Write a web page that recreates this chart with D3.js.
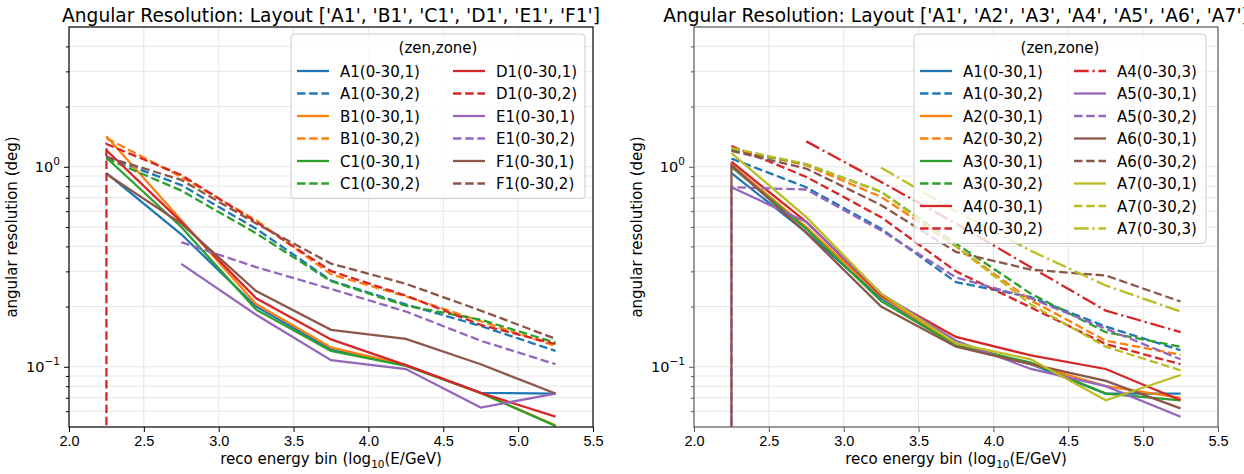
<!DOCTYPE html>
<html>
<head>
<meta charset="utf-8">
<script src="https://cdn.jsdelivr.net/npm/d3@7"></script>
<style>
  body { margin: 0; background: #fff; }
  svg { display: block; font-family: "DejaVu Sans", sans-serif; }
</style>
</head>
<body>
<svg id="chart" width="1244" height="474"></svg>
<script>
// energy bin centres (log10 E/GeV)
const xBins = [2.25, 2.75, 3.25, 3.75, 4.25, 4.75, 5.25];
const xTicks = [2.0, 2.5, 3.0, 3.5, 4.0, 4.5, 5.0, 5.5];
const yMajorTicks = [0.1, 1];
const yMinorTicks = [0.06, 0.07, 0.08, 0.09, 0.2, 0.3, 0.4, 0.5, 0.6, 0.7, 0.8, 0.9, 2, 3, 4];

// left panel
const leftTitle = "Angular Resolution: Layout ['A1', 'B1', 'C1', 'D1', 'E1', 'F1']";
const leftStations = ["A1", "B1", "C1", "D1", "E1", "F1"];
const leftLabels = [
  "A1(0-30,1)", "A1(0-30,2)", "B1(0-30,1)", "B1(0-30,2)", "C1(0-30,1)", "C1(0-30,2)",
  "D1(0-30,1)", "D1(0-30,2)", "E1(0-30,1)", "E1(0-30,2)", "F1(0-30,1)", "F1(0-30,2)"
];
const leftValues = [
  [0.93, 0.46, 0.200, 0.122, 0.102, 0.074, 0.0735],
  [1.12, 0.81, 0.49, 0.270, 0.205, 0.160, 0.120],
  [1.42, 0.54, 0.206, 0.125, 0.102, 0.074, 0.051],
  [1.39, 0.89, 0.54, 0.290, 0.225, 0.169, 0.127],
  [1.11, 0.50, 0.193, 0.120, 0.101, 0.074, 0.0506],
  [1.10, 0.76, 0.465, 0.268, 0.202, 0.172, 0.132],
  [1.21, 0.53, 0.220, 0.137, 0.102, 0.074, 0.0563],
  [1.30, 0.91, 0.53, 0.301, 0.227, 0.162, 0.130],
  [null, 0.327, 0.182, 0.108, 0.0975, 0.0625, 0.0735],
  [null, 0.42, 0.315, 0.245, 0.189, 0.135, 0.103],
  [0.92, 0.52, 0.239, 0.153, 0.138, 0.103, 0.0735],
  [1.12, 0.86, 0.52, 0.328, 0.260, 0.191, 0.138]
];
const leftZeroStart = ["D1(0-30,2)"];

// right panel
const rightTitle = "Angular Resolution: Layout ['A1', 'A2', 'A3', 'A4', 'A5', 'A6', 'A7']";
const rightStations = ["A1", "A2", "A3", "A4", "A5", "A6", "A7"];
const rightLabels = [
  "A1(0-30,1)", "A1(0-30,2)", "A2(0-30,1)", "A2(0-30,2)", "A3(0-30,1)", "A3(0-30,2)",
  "A4(0-30,1)", "A4(0-30,2)", "A4(0-30,3)", "A5(0-30,1)", "A5(0-30,2)", "A6(0-30,1)",
  "A6(0-30,2)", "A7(0-30,1)", "A7(0-30,2)", "A7(0-30,3)"
];
const rightValues = [
  [0.93, 0.47, 0.220, 0.130, 0.103, 0.0735, 0.0735],
  [1.10, 0.79, 0.49, 0.265, 0.223, 0.159, 0.121],
  [1.02, 0.50, 0.225, 0.130, 0.103, 0.080, 0.070],
  [1.22, 1.02, 0.707, 0.400, 0.215, 0.135, 0.115],
  [1.00, 0.49, 0.213, 0.128, 0.105, 0.0735, 0.068],
  [1.22, 1.03, 0.75, 0.413, 0.232, 0.149, 0.126],
  [1.06, 0.53, 0.228, 0.141, 0.114, 0.0975, 0.068],
  [1.27, 0.89, 0.56, 0.300, 0.198, 0.130, 0.103],
  [null, 1.34, 0.84, 0.52, 0.315, 0.191, 0.149],
  [0.79, 0.53, 0.232, 0.135, 0.0975, 0.080, 0.0563],
  [0.79, 0.77, 0.48, 0.280, 0.220, 0.155, 0.109],
  [1.02, 0.467, 0.200, 0.126, 0.103, 0.085, 0.062],
  [1.20, 0.98, 0.643, 0.375, 0.306, 0.286, 0.212],
  [1.17, 0.56, 0.232, 0.131, 0.109, 0.068, 0.091],
  [1.24, 1.03, 0.75, 0.400, 0.205, 0.126, 0.096],
  [null, null, 0.99, 0.60, 0.38, 0.255, 0.189]
];
const rightZeroStart = ["A5(0-30,2)", "A6(0-30,1)"];

const palette = ["#1f77b4", "#ff7f0e", "#2ca02c", "#d62728", "#9467bd", "#8c564b", "#bcbd22"];
const dashes = { "1": null, "2": "8.5,3.7", "3": "14.7,3.7,2.3,3.7" };

const svg = d3.select("#chart");
const W = 524, H = 400;

function drawPanel(cfg) {
  const g = svg.append("g").attr("transform", `translate(${cfg.left},27)`);
  const x = d3.scaleLinear().domain([2.0, 5.5]).range([0, W]);
  const y = d3.scaleLog().domain([0.05, 5]).range([H, 0]);

  // grid
  g.append("g").selectAll("line").data(xTicks.slice(1, -1)).join("line")
    .attr("x1", d => x(d)).attr("x2", d => x(d)).attr("y1", 0).attr("y2", H)
    .attr("stroke", "#e6e6e6").attr("stroke-width", 1);
  g.append("g").selectAll("line").data(yMinorTicks.concat(yMajorTicks)).join("line")
    .attr("x1", 0).attr("x2", W).attr("y1", d => y(d)).attr("y2", d => y(d))
    .attr("stroke", "#e6e6e6").attr("stroke-width", 1);

  // lines
  const clipId = "clip" + cfg.left;
  g.append("clipPath").attr("id", clipId).append("rect")
    .attr("x", 0).attr("y", 0).attr("width", W).attr("height", H);
  const line = d3.line()
    .defined(d => d.v != null)
    .x(d => x(d.x))
    .y(d => y(Math.max(d.v, 1e-3)));
  const series = cfg.labels.map((lab, i) => {
    const pts = xBins.map((b, j) => ({ x: b, v: cfg.values[i][j] }));
    if (cfg.zeroStart.includes(lab)) pts.unshift({ x: xBins[0], v: 0 });
    return {
      label: lab,
      color: palette[cfg.stations.indexOf(lab.slice(0, 2))],
      dash: dashes[lab.charAt(lab.length - 2)],
      pts
    };
  });
  const lg = g.append("g").attr("clip-path", `url(#${clipId})`);
  lg.selectAll("path").data(series).join("path")
    .attr("d", d => line(d.pts))
    .attr("fill", "none")
    .attr("stroke", d => d.color)
    .attr("stroke-width", 2.3)
    .attr("stroke-dasharray", d => d.dash);

  // axes
  const xa = g.append("g").attr("transform", `translate(0,${H})`)
    .call(d3.axisBottom(x).tickValues(xTicks).tickFormat(d3.format(".1f")).tickSize(5).tickPadding(4));
  xa.selectAll("text").attr("font-size", 14.5).attr("fill", "#000");
  const ya = g.append("g")
    .call(d3.axisLeft(y).tickValues(yMajorTicks).tickFormat("").tickSize(5));
  g.append("g")
    .call(d3.axisLeft(y).tickValues(yMinorTicks).tickFormat("").tickSize(3))
    .select(".domain").remove();
  [xa, ya].forEach(a => {
    a.selectAll(".domain").remove();
    a.selectAll("line").attr("stroke", cfg.spine).attr("stroke-width", 1);
  });
  g.selectAll(".tick line").attr("stroke", cfg.spine);
  yMajorTicks.forEach(t => {
    const txt = g.append("text").attr("x", -9).attr("y", y(t) + 5)
      .attr("text-anchor", "end").attr("font-size", 14.5);
    txt.append("tspan").text("10");
    txt.append("tspan").attr("dy", -7).attr("font-size", 10.5).text(t === 1 ? "0" : "\u22121");
  });
  g.append("rect").attr("x", 0).attr("y", 0).attr("width", W).attr("height", H)
    .attr("fill", "none").attr("stroke", cfg.spine).attr("stroke-width", 1.2);

  // labels
  g.append("text").attr("x", W / 2).attr("y", -5.5).attr("text-anchor", "middle")
    .attr("font-size", 18.6).text(cfg.title);
  const xl = g.append("text").attr("x", W / 2).attr("y", H + 37).attr("text-anchor", "middle")
    .attr("font-size", 15);
  xl.append("tspan").text("reco energy bin (log");
  xl.append("tspan").attr("dy", 4).attr("font-size", 10.5).text("10");
  xl.append("tspan").attr("dy", -4).text("(E/GeV)");
  g.append("text").attr("transform", `translate(${cfg.ylabelX},${H / 2}) rotate(-90)`)
    .attr("text-anchor", "middle").attr("font-size", 15).text("angular resolution (deg)");

  // legend
  const L = cfg.legend;
  const rows = Math.ceil(series.length / 2);
  const leg = svg.append("g").attr("transform", `translate(${L.x},34)`);
  leg.append("rect").attr("width", L.w).attr("height", 52 + (rows - 1) * 22.5)
    .attr("rx", 4).attr("fill", "#fff").attr("fill-opacity", 0.8)
    .attr("stroke", "#cccccc").attr("stroke-width", 1);
  leg.append("text").attr("x", L.w / 2).attr("y", 19).attr("text-anchor", "middle")
    .attr("font-size", 15).text("(zen,zone)");
  series.forEach((s, i) => {
    const col = Math.floor(i / rows), row = i % rows;
    const ry = 37 + row * 22.5;
    const hx = col === 0 ? L.h1 : L.h2;
    leg.append("line").attr("x1", hx).attr("x2", hx + 32).attr("y1", ry).attr("y2", ry)
      .attr("stroke", s.color).attr("stroke-width", 2.3).attr("stroke-dasharray", s.dash);
    leg.append("text").attr("x", hx + 43).attr("y", ry + 5.5).attr("font-size", 15).text(s.label);
  });
}

drawPanel({
  left: 69, title: leftTitle, stations: leftStations, labels: leftLabels,
  values: leftValues, zeroStart: leftZeroStart, spine: "#000", ylabelX: -52,
  legend: { x: 291, w: 294, h1: 6, h2: 162 }
});
drawPanel({
  left: 694, title: rightTitle, stations: rightStations, labels: rightLabels,
  values: rightValues, zeroStart: rightZeroStart, spine: "#555", ylabelX: -52,
  legend: { x: 914, w: 292, h1: 6, h2: 160 }
});
</script>
</body>
</html>
